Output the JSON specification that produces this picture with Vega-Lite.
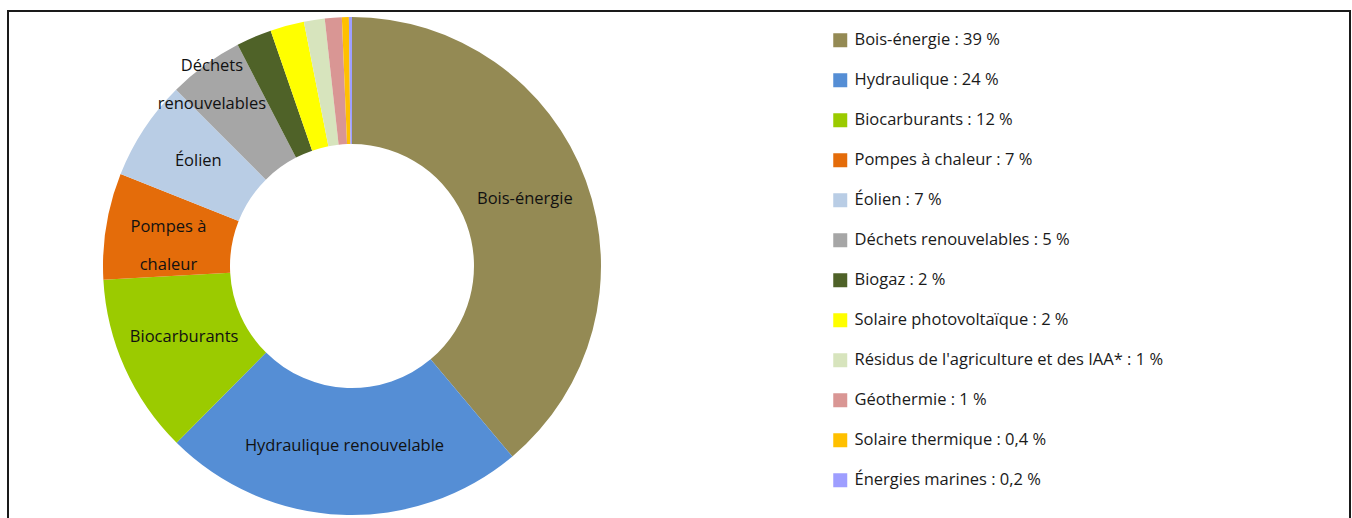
{
  "$schema": "https://vega.github.io/schema/vega-lite/v6.json",
  "width": 1342,
  "height": 530,
  "padding": {"left": 7, "top": 10, "right": 3, "bottom": 0},
  "background": "white",
  "config": {
    "view": {"stroke": null},
    "font": "Open Sans"
  },
  "datasets": {
    "energies": [
      {"ord": 1, "cat": "Bois-énergie", "leg": "Bois-énergie : 39 %", "val": 38.9, "lbl": ["Bois-énergie"]},
      {"ord": 2, "cat": "Hydraulique", "leg": "Hydraulique  : 24 %", "val": 23.6, "lbl": ["Hydraulique renouvelable"]},
      {"ord": 3, "cat": "Biocarburants", "leg": "Biocarburants : 12 %", "val": 11.7, "lbl": ["Biocarburants"]},
      {"ord": 4, "cat": "Pompes à chaleur", "leg": "Pompes à chaleur : 7 %", "val": 6.9, "lbl": ["Pompes à", "chaleur"]},
      {"ord": 5, "cat": "Éolien", "leg": "Éolien : 7 %", "val": 6.5, "lbl": ["Éolien"]},
      {"ord": 6, "cat": "Déchets renouvelables", "leg": "Déchets renouvelables : 5 %", "val": 4.9, "lbl": ["Déchets", "renouvelables"]},
      {"ord": 7, "cat": "Biogaz", "leg": "Biogaz : 2 %", "val": 2.3, "lbl": [""]},
      {"ord": 8, "cat": "Solaire photovoltaïque", "leg": "Solaire photovoltaïque : 2 %", "val": 2.2, "lbl": [""]},
      {"ord": 9, "cat": "Résidus", "leg": "Résidus de l'agriculture et des IAA* : 1 %", "val": 1.35, "lbl": [""]},
      {"ord": 10, "cat": "Géothermie", "leg": "Géothermie : 1 %", "val": 1.1, "lbl": [""]},
      {"ord": 11, "cat": "Solaire thermique", "leg": "Solaire thermique : 0,4 %", "val": 0.45, "lbl": [""]},
      {"ord": 12, "cat": "Énergies marines", "leg": "Énergies marines : 0,2 %", "val": 0.2, "lbl": [""]}
    ]
  },
  "layer": [
    {
      "data": {"values": [{"frame": 1}]},
      "mark": {"type": "rect", "fill": null, "stroke": "#1a1a1a", "strokeWidth": 2},
      "encoding": {
        "x": {"value": 0},
        "x2": {"value": "width"},
        "y": {"value": 0},
        "y2": {"value": "height"}
      }
    },
    {
      "data": {"name": "energies"},
      "mark": {"type": "arc", "outerRadius": 249, "innerRadius": 122, "x": 344, "y": 255},
      "encoding": {
        "theta": {"field": "val", "type": "quantitative", "stack": true},
        "order": {"field": "ord", "type": "quantitative"},
        "color": {
          "field": "leg",
          "type": "nominal",
          "scale": {
            "domain": ["Bois-énergie : 39 %", "Hydraulique  : 24 %", "Biocarburants : 12 %", "Pompes à chaleur : 7 %", "Éolien : 7 %", "Déchets renouvelables : 5 %", "Biogaz : 2 %", "Solaire photovoltaïque : 2 %", "Résidus de l'agriculture et des IAA* : 1 %", "Géothermie : 1 %", "Solaire thermique : 0,4 %", "Énergies marines : 0,2 %"],
            "range": ["#948A54", "#558ED5", "#9BCB00", "#E46C0A", "#B9CDE5", "#A6A6A6", "#4F6228", "#FFFF00", "#D7E4BD", "#D99694", "#FFC000", "#9E9EFF"]
          },
          "legend": {
            "title": null,
            "orient": "none",
            "legendX": 824,
            "legendY": 21,
            "symbolType": "square",
            "symbolSize": 196,
            "symbolStrokeWidth": 0,
            "labelFontSize": 16.5,
            "labelFont": "Open Sans",
            "labelColor": "#1a1a1a",
            "labelLimit": 500,
            "labelOffset": 6,
            "rowPadding": 23
          }
        }
      }
    },
    {
      "data": {"name": "energies"},
      "mark": {"type": "text", "radius": 184, "x": 344, "y": 255, "dy": -4, "fontSize": 16.5, "baseline": "middle", "align": "center", "color": "#111"},
      "encoding": {
        "theta": {"field": "val", "type": "quantitative", "stack": true},
        "order": {"field": "ord", "type": "quantitative"},
        "text": {"condition": {"test": "datum.ord === 4 || datum.ord === 6", "value": ""}, "field": "lbl"}
      }
    },
    {
      "data": {"name": "energies"},
      "mark": {"type": "text", "radius": 186, "x": 344, "y": 255, "dy": -9, "fontSize": 16.5, "lineHeight": 38, "baseline": "middle", "align": "center", "color": "#111"},
      "encoding": {
        "theta": {"field": "val", "type": "quantitative", "stack": true},
        "order": {"field": "ord", "type": "quantitative"},
        "text": {"condition": {"test": "datum.ord !== 4", "value": ""}, "field": "lbl"}
      }
    },
    {
      "data": {"name": "energies"},
      "mark": {"type": "text", "radius": 229, "x": 344, "y": 255, "dx": -5, "dy": -15, "fontSize": 16.5, "lineHeight": 38, "baseline": "middle", "align": "center", "color": "#111"},
      "encoding": {
        "theta": {"field": "val", "type": "quantitative", "stack": true},
        "order": {"field": "ord", "type": "quantitative"},
        "text": {"condition": {"test": "datum.ord !== 6", "value": ""}, "field": "lbl"}
      }
    }
  ]
}
